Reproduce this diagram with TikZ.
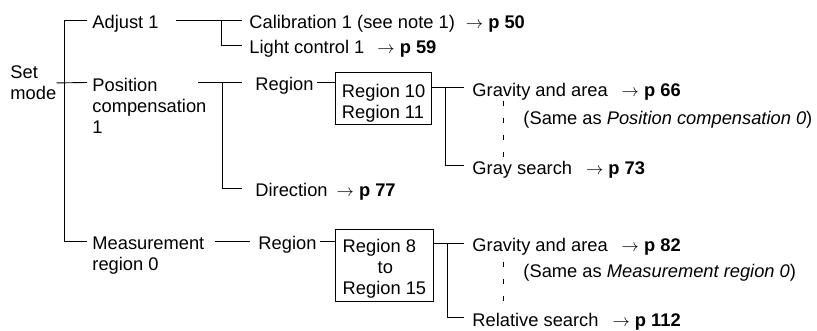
\documentclass[tikz,border=0pt]{standalone}
\usepackage{fontspec}
\setmainfont{Liberation Sans}
\newcommand{\pref}[1]{$\rightarrow$ \textbf{p #1}}

\begin{document}
\begin{tikzpicture}[x=1pt,y=-1pt,line width=.9pt,font=\fontsize{18.3}{21}\selectfont,
  lbl/.style={anchor=west,inner sep=0pt,text height=17pt,text depth=0pt},
  multi/.style={anchor=north west,inner sep=0pt,align=left},
  regbox/.style={draw,anchor=north west,inner xsep=6.5pt,inner ysep=0pt,align=left},
  same/.style={anchor=base west,inner sep=0pt},
  gap/.style={dash pattern=on 5pt off 12pt}]
\useasboundingbox (0,0) rectangle (817,331);
% first column
\node[multi] (set) at (10,65.5) {Set\\mode};
\node[lbl] (adj) at (92,20.5) {Adjust 1};
\node[multi] (pc) at (92,78) {Position\\compensation\\1};
\node[multi] (meas) at (92,236.5) {Measurement\\region 0};
\coordinate (pcin) at ([yshift=-4.5pt]pc.north west);
\coordinate (measin) at ([yshift=-4.5pt]meas.north west);
\draw ([xshift=-28pt]adj.west) -- ([xshift=-5pt]adj.west);
\draw ([xshift=-28pt]adj.west) -- ([xshift=-28pt]measin) -- ([xshift=-5pt]measin);
\draw (set.east) -- ([xshift=-5pt]pcin);
% Adjust 1
\node[lbl] (cal) at (249,20.5) {Calibration 1 (see note 1)\hspace{11pt}\pref{50}};
\node[lbl] (light) at (249,45) {Light control 1\hspace{13pt}\pref{59}};
\draw ([xshift=17pt]adj.east) -- ([xshift=-7pt]cal.west);
\draw ([xshift=-28pt]cal.west) |- ([xshift=-7pt]light.west);
% Position compensation 1
\node[lbl] (reg1) at (255,82.5) {Region};
\node[lbl] (dir) at (255,188) {Direction\hspace{9pt}\pref{77}};
\draw ([xshift=106pt]pcin) -- ([xshift=-13pt]reg1.west);
\draw ([xshift=-33pt]reg1.west) |- ([xshift=-13pt]dir.west);
\node[regbox,minimum width=96pt] (box1) at (335,72)
  {\rule{0pt}{25pt}Region 10\\Region 11\rule[-6.5pt]{0pt}{6.5pt}};
\draw ([xshift=3pt]reg1.east) -- (reg1.east -| box1.west);
\node[lbl] (grav1) at (472,87.7) {Gravity and area\hspace{14pt}\pref{66}};
\node[lbl] (gray) at (472,165.7) {Gray search\hspace{14pt}\pref{73}};
\draw (box1.east |- grav1.west) -- ([xshift=-8pt]grav1.west);
\draw ([xshift=-27pt]grav1.west) |- ([xshift=-8pt]gray.west);
\draw[gap] ([xshift=31pt]grav1.south west) ++(0,4) -- ([xshift=31pt]gray.north west);
\node[same] (note1) at (523,125) {(Same as \textit{Position compensation 0})};
% Measurement region 0
\node[lbl] (reg2) at (258,241) {Region};
\draw ([xshift=123pt]measin) -- ([xshift=-8pt]reg2.west);
\node[regbox,minimum width=98pt] (box2) at (335,229)
  {\rule{0pt}{23pt}Region 8\\\hspace{35pt}to\\Region 15\rule[-6.5pt]{0pt}{6.5pt}};
\draw ([xshift=3pt]reg2.east) -- (reg2.east -| box2.west);
\node[lbl] (grav2) at (472,243) {Gravity and area\hspace{14pt}\pref{82}};
\node[lbl] (rel) at (472,317.5) {Relative search\hspace{14pt}\pref{112}};
\draw (box2.east |- grav2.west) -- ([xshift=-8pt]grav2.west);
\draw ([xshift=-25pt]grav2.west) |- ([xshift=-8pt]rel.west);
\draw[gap] ([xshift=31pt]grav2.south west) ++(0,10) -- ([xshift=31pt,yshift=4pt]rel.north west);
\node[same] (note2) at (523,278) {(Same as \textit{Measurement region 0})};
\end{tikzpicture}
\end{document}
